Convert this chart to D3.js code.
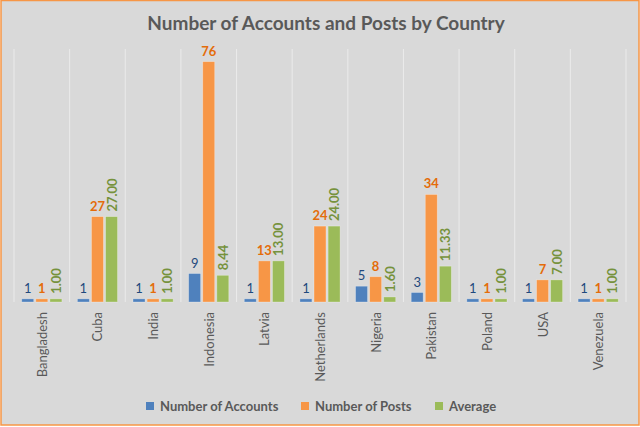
<!DOCTYPE html>
<html>
<head>
<meta charset="utf-8">
<script src="https://cdn.jsdelivr.net/npm/d3@7"></script>
<style>
body { margin: 0; background: #fff; }
text { font-family: Lato, "Open Sans", sans-serif; }
</style>
</head>
<body>
<script>
var countries = ["Bangladesh", "Cuba", "India", "Indonesia", "Latvia", "Netherlands", "Nigeria", "Pakistan", "Poland", "USA", "Venezuela"];
var accounts = [1, 1, 1, 9, 1, 1, 5, 3, 1, 1, 1];
var posts = [1, 27, 1, 76, 13, 24, 8, 34, 1, 7, 1];
var average = [1.00, 27.00, 1.00, 8.44, 13.00, 24.00, 1.60, 11.33, 1.00, 7.00, 1.00];
var seriesNames = ["Number of Accounts", "Number of Posts", "Average"];

var width = 640, height = 427;
var svg = d3.select("body").append("svg")
    .attr("width", width)
    .attr("height", height);

// background + orange frame
svg.append("rect")
    .attr("x", 1).attr("y", 0.5)
    .attr("width", 638).attr("height", 424.5)
    .attr("fill", "#d9d9d9")
    .attr("stroke", "#f79646")
    .attr("stroke-width", 1.5);

svg.append("text")
    .text("Number of Accounts and Posts by Country")
    .attr("x", 326).attr("y", 30)
    .attr("text-anchor", "middle")
    .attr("font-size", 19)
    .attr("font-weight", "bold")
    .attr("fill", "#595959");

var plotLeft = 14, plotRight = 626, plotTop = 49, plotBottom = 302;

var x = d3.scaleBand().domain(countries).range([plotLeft, plotRight]).paddingInner(0).paddingOuter(0);
var x1 = d3.scaleBand().domain(seriesNames).range([0, x.bandwidth()]).paddingInner(0.15).paddingOuter(0.55);
var y = d3.scaleLinear().domain([0, 80]).range([plotBottom, plotTop]);

// vertical category separators
var seps = countries.map(function(c) { return x(c); }).concat([plotRight]);
svg.selectAll(".sep").data(seps).enter().append("line")
    .attr("class", "sep")
    .attr("x1", function(d) { return d; })
    .attr("x2", function(d) { return d; })
    .attr("y1", plotTop).attr("y2", plotBottom)
    .attr("stroke", "#ebebeb")
    .attr("stroke-width", 1);

var colors = ["#4f81bd", "#f79646", "#9bbb59"];
var labelColors = ["#1f497d", "#e46c0a", "#76923c"];
var labelWeights = ["normal", "bold", "bold"];
var values = [accounts, posts, average];

var rows = countries.map(function(c, i) {
    return seriesNames.map(function(s, k) {
        return { country: c, series: s, k: k, value: values[k][i] };
    });
});

var groups = svg.selectAll(".grp").data(rows).enter().append("g")
    .attr("class", "grp")
    .attr("transform", function(d, i) { return "translate(" + x(countries[i]) + ",0)"; });

groups.selectAll("rect").data(function(d) { return d; }).enter().append("rect")
    .attr("x", function(d) { return x1(d.series); })
    .attr("width", x1.bandwidth())
    .attr("y", function(d) { return y(d.value); })
    .attr("height", function(d) { return plotBottom - y(d.value); })
    .attr("fill", function(d) { return colors[d.k]; })
    .attr("stroke", "rgba(255,255,255,0.35)")
    .attr("stroke-width", 0.8);

// data labels
groups.selectAll(".lbl").data(function(d) { return d; }).enter().append("text")
    .attr("class", "lbl")
    .attr("font-size", 13)
    .attr("font-weight", function(d) { return labelWeights[d.k]; })
    .attr("fill", function(d) { return labelColors[d.k]; })
    .attr("text-anchor", function(d) { return d.k == 2 ? "start" : "middle"; })
    .attr("transform", function(d) {
        var cx = x1(d.series) + x1.bandwidth() / 2;
        if (d.k == 2) return "translate(" + (cx + 5) + "," + (y(d.value) - 5) + ") rotate(-90)";
        return "translate(" + cx + "," + (y(d.value) - 6) + ")";
    })
    .text(function(d) { return d.k == 2 ? d.value.toFixed(2) : d.value; });

// category labels
svg.selectAll(".cat").data(countries).enter().append("text")
    .attr("class", "cat")
    .attr("transform", function(d) { return "translate(" + (x(d) + x.bandwidth() / 2 + 5) + "," + (plotBottom + 10) + ") rotate(-90)"; })
    .attr("text-anchor", "end")
    .attr("font-size", 13)
    .attr("fill", "#595959")
    .text(function(d) { return d; });

// legend
var legendX = [146, 301, 435];
var legend = svg.selectAll(".leg").data(seriesNames).enter().append("g")
    .attr("class", "leg")
    .attr("transform", function(d, i) { return "translate(" + legendX[i] + ",407)"; });
legend.append("rect")
    .attr("x", 0).attr("y", -5)
    .attr("width", 8).attr("height", 8)
    .attr("fill", function(d, i) { return colors[i]; });
legend.append("text")
    .attr("x", 14).attr("y", 4)
    .attr("font-size", 13)
    .attr("font-weight", "bold")
    .attr("fill", "#595959")
    .text(function(d) { return d; });
</script>
</body>
</html>
